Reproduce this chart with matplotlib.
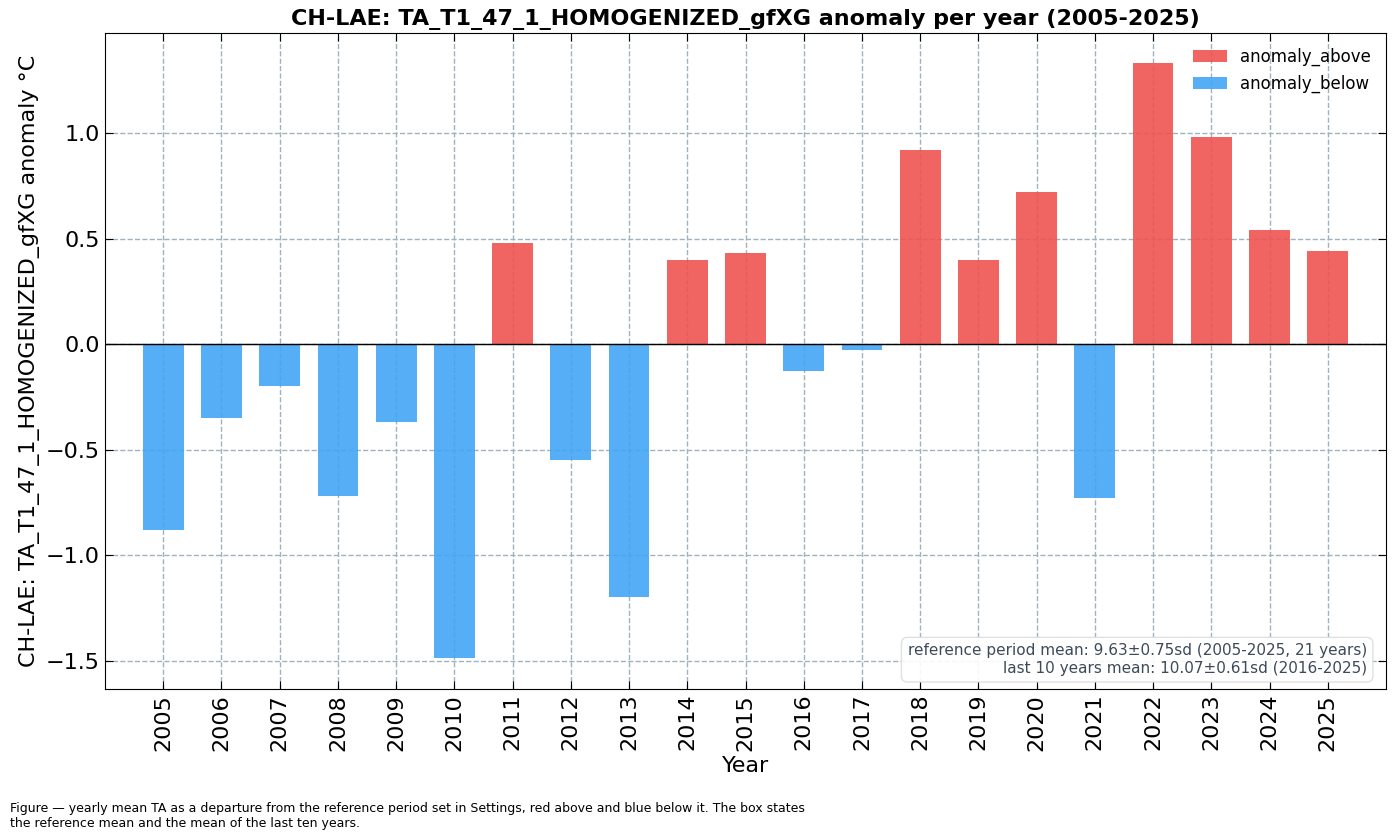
import matplotlib.pyplot as plt
import numpy as np

years = list(range(2005, 2026))
anomaly = [-0.88, -0.35, -0.20, -0.72, -0.37, -1.49, 0.48, -0.55, -1.20, 0.40, 0.43,
           -0.13, -0.03, 0.92, 0.40, 0.72, -0.73, 1.33, 0.98, 0.54, 0.44]
title = "CH-LAE: TA_T1_47_1_HOMOGENIZED_gfXG anomaly per year (2005-2025)"
ylabel = "CH-LAE: TA_T1_47_1_HOMOGENIZED_gfXG anomaly °C"
info = ("reference period mean: 9.63±0.75sd (2005-2025, 21 years)\n"
        "last 10 years mean: 10.07±0.61sd (2016-2025)")
caption = ("Figure — yearly mean TA as a departure from the reference period set in Settings, red above and blue below it. The box states\n"
           "the reference mean and the mean of the last ten years.")

fig = plt.figure(figsize=(13.96, 8.4), dpi=100)
ax = fig.add_axes([105/1396, 1-689/840, 1281/1396, 656/840])

x = np.arange(len(years))
a = np.array(anomaly)
above = np.where(a > 0, a, np.nan)
below = np.where(a <= 0, a, np.nan)
ax.bar(x, above, width=0.7, color='#ef5350', alpha=0.9, label='anomaly_above', zorder=3)
ax.bar(x, below, width=0.7, color='#42a5f5', alpha=0.9, label='anomaly_below', zorder=3)
ax.axhline(0, color='black', lw=1, zorder=4)

ax.set_xlim(-1, len(years))
ax.set_ylim(-1.635, 1.474)
ax.set_xticks(x)
ax.set_xticklabels([str(y) for y in years], rotation=90, fontsize=16)
ax.set_yticks([-1.5, -1.0, -0.5, 0.0, 0.5, 1.0])
ax.set_yticklabels(['−1.5', '−1.0', '−0.5', '0.0', '0.5', '1.0'], fontsize=16)
ax.tick_params(direction='in', top=True, right=True, length=6)
ax.grid(True, ls='--', color='#9fb3bf', lw=1, zorder=0)
ax.set_xlabel("Year", fontsize=16)
ax.set_ylabel(ylabel, fontsize=16)
ax.set_title(title, fontsize=16, fontweight='bold')
ax.legend(loc='upper right', frameon=False, fontsize=12)
ax.text(0.985, 0.02, info, transform=ax.transAxes, ha='right', va='bottom',
        fontsize=11, color='#3d4a5a', zorder=5,
        bbox=dict(boxstyle='round,pad=0.4', fc='white', ec='#dddddd', alpha=0.9))
fig.text(10/1396, 1-802/840, caption, fontsize=9, va='top', ha='left')

fig.savefig('out.png', dpi=100)
